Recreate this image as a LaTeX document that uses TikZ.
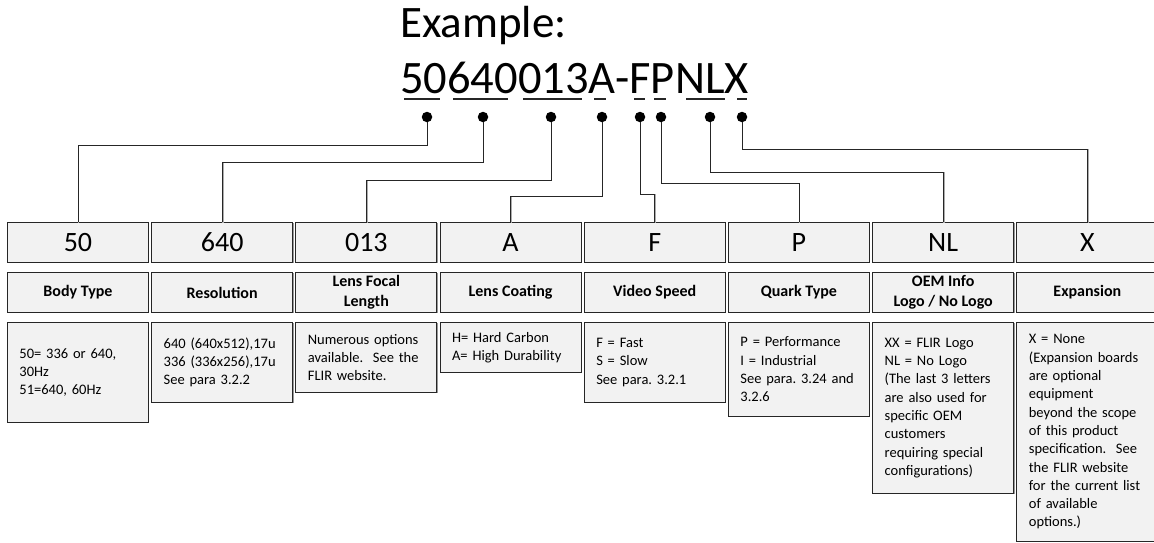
\documentclass[tikz,border=0pt]{standalone}
\usepackage{fontspec}
\setmainfont{Carlito}
\newfontfamily\descfamily{Carlito}[WordSpace={0.72,0.5,0.3}]
\frenchspacing
\newcommand\descfont{\descfamily\fontsize{14.5}{18.3}\selectfont}
\usetikzlibrary{shadows}
\definecolor{boxfill}{HTML}{F2F2F2}
\definecolor{boxline}{HTML}{262626}
\tikzset{
  cell/.style={draw=boxline, line width=0.9pt, fill=boxfill, inner sep=0pt,
    minimum width=141pt, anchor=north west,
    drop shadow={shadow xshift=0.9pt, shadow yshift=-0.9pt, fill=gray!80, opacity=1}},
  codebox/.style={cell, minimum height=40pt, font=\fontsize{28}{32}\selectfont},
  titlebox/.style={cell, minimum height=40pt, align=center,
    font=\fontsize{16}{20.5}\selectfont\bfseries},
  descbox/.style={cell, text width=117pt, inner xsep=12pt, inner ysep=0pt, align=left,
    font=\descfont},
  dot/.style={circle, fill=black, inner sep=0pt, minimum size=10.5pt},
  conn/.style={draw=boxline, line width=0.8pt,
    preaction={draw=gray!65, line width=1.1pt, transform canvas={xshift=0.8pt, yshift=-0.8pt}}},
  uline/.style={draw=black!85, line width=1.6pt},
  big/.style={anchor=base west, inner sep=0pt}
}
\begin{document}
\begin{tikzpicture}[x=1pt, y=-1pt]
\useasboundingbox (0,0) rectangle (1154,542);
\fill[white] (0,0) rectangle (1154,542);

% title and code
\node[big, font=\fontsize{45}{50}\selectfont] (ex) at (400,37) {Example:};
\node[big, font=\fontsize{46.5}{52}\selectfont] (code) at (400,93) {50640013A-FPNLX};

% underlines
\draw[uline] (404,99) -- (440,99);
\draw[uline] (453,99) -- (508,99);
\draw[uline] (523,99) -- (582,99);
\draw[uline] (594,99) -- (606,99);
\draw[uline] (634,99) -- (645,99);
\draw[uline] (654,99) -- (666,99);
\draw[uline] (686,99) -- (725,99);
\draw[uline] (737,99) -- (747,99);

% boxes
\foreach \i/\c/\t in {1/50/Body Type, 2/640/Resolution, 3/013/{Lens Focal\\Length},
  4/A/Lens Coating, 5/F/Video Speed, 6/P/Quark Type, 7/NL/{OEM Info\\Logo / No Logo}, 8/X/Expansion}{
  \pgfmathsetmacro{\xx}{7+144.2*(\i-1)}
  \node[codebox] (c\i) at (\xx,222) {\c};
  \node[titlebox] (t\i) at (\xx,272) {\t};
}
\node[descbox, minimum height=100pt] (e1) at (7,322) {50= 336 or 640,\\30Hz\\51=640, 60Hz};
\node[descbox, minimum height=80pt] (e2) at (151.2,322) {640 (640x512),17u\\336 (336x256),17u\\See para 3.2.2};
\node[descbox, minimum height=70pt] (e3) at (295.4,322) {Numerous options\\available.\ \ See the\\FLIR website.};
\node[descbox, minimum height=50pt] (e4) at (439.6,322) {H= Hard Carbon\\A= High Durability};
\node[descbox, minimum height=80pt] (e5) at (583.8,322) {F = Fast\\S = Slow\\See para. 3.2.1};
\node[descbox, minimum height=94pt] (e6) at (728,322) {P = Performance\\I = Industrial\\See para. 3.24 and\\3.2.6};
\node[descbox, minimum height=171pt] (e7) at (872.2,322) {XX = FLIR Logo\\NL = No Logo\\(The last 3 letters\\are also used for\\specific OEM\\customers\\requiring special\\configurations)};
\node[descbox, minimum height=219pt] (e8) at (1016.4,322) {X = None\\(Expansion boards\\are optional\\equipment\\beyond the scope\\of this product\\specification.\ \ See\\the FLIR website\\for the current list\\of available\\options.)};

% bend levels
\coordinate (h1) at (0,145);
\coordinate (h2) at (0,162);
\coordinate (h3) at (0,180);
\coordinate (h4) at (0,196);
\coordinate (h5) at (0,194);
\coordinate (h6) at (0,183);
\coordinate (h7) at (0,172);
\coordinate (h8) at (0,149);

% dots
\node[dot] (d1) at (427,117) {};
\node[dot] (d2) at (483,117) {};
\node[dot] (d3) at (551,117) {};
\node[dot] (d4) at (602,117) {};
\node[dot] (d5) at (640,117) {};
\node[dot] (d6) at (661,117) {};
\node[dot] (d7) at (710,117) {};
\node[dot] (d8) at (742,117) {};

% connectors
\foreach \i in {1,...,8}{
  \draw[conn] (d\i.south) -- (d\i.center |- h\i) -| (c\i.north);
}
\end{tikzpicture}
\end{document}
